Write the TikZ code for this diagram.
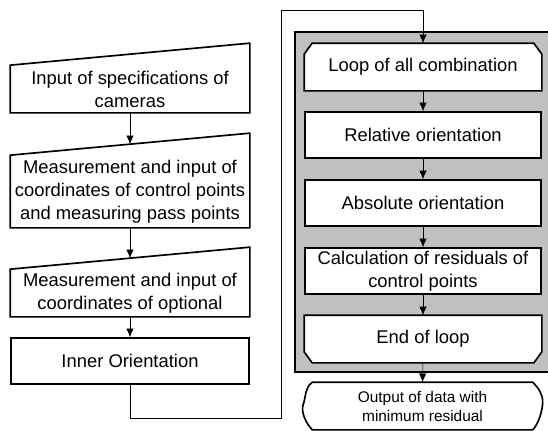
\documentclass[tikz,border=0pt]{standalone}
\usepackage{fontspec}
\setmainfont{Liberation Sans}
\usepackage{tikz}
\usetikzlibrary{arrows.meta,backgrounds,calc}

\begin{document}
\begin{tikzpicture}[x=0.75pt,y=0.75pt,yscale=-1,line width=1.25pt,
  flowbox/.style={minimum width=178.5pt,minimum height=34.5pt,inner sep=0pt,align=center,font=\fontsize{13.8}{17.25}\selectfont},
  procbox/.style={flowbox,draw,fill=white},
  loopbox/.style={flowbox,minimum width=177pt},
  outbox/.style={minimum width=164pt,minimum height=34.5pt,inner sep=0pt,align=center,font=\fontsize{11.55}{14.25}\selectfont},
  outline/.style={draw,fill=white,line width=1.25pt},
  flowarrow/.style={-{Latex[length=6.5pt,width=5.5pt]}}]
%uncomment if require: \path (0,430); %set diagram left start at 0, and has height of 430
\useasboundingbox (0,0) rectangle (548,430);

% Text Node
\node [flowbox] (spec) at (130,89) {Input of specifications of\\cameras};
% Text Node
\node [flowbox,minimum height=53.25pt] (ctrl) at (130,191.5) {Measurement and input of\\coordinates of control points\\and measuring pass points};
% Text Node
\node [flowbox] (opt) at (130,293) {Measurement and input of\\coordinates of optional};
% Text Node
\node [procbox] (inner) at (130,361) {Inner Orientation};

% Text Node
\node [loopbox] (loop) at (423,67) {Loop of all combination};
% Text Node
\node [procbox,minimum width=177pt] (rel) at (423,135) {Relative orientation};
% Text Node
\node [procbox,minimum width=177pt] (abs) at (423,203) {Absolute orientation};
% Text Node
\node [procbox,minimum width=177pt] (resid) at (423,271) {Calculation of residuals of\\control points};
% Text Node
\node [loopbox] (endloop) at (423,339) {End of loop};
% Text Node
\node [outbox] (out) at (422.5,406) {Output of data with\\minimum residual};

\begin{pgfonlayer}{background}
%Shape: Rectangle [loop frame]
\draw [outline,fill={rgb, 255:red, 192; green, 192; blue, 192 }] (295,32) -- (560,32) -- (560,372) -- (295,372) -- cycle ;
%Manual Input [spec]
\draw [outline] (spec.south west) -- (spec.north west) -- ($(spec.north east)+(0,-22)$) -- (spec.south east) -- cycle ;
%Manual Input [ctrl]
\draw [outline] (ctrl.south west) -- (ctrl.north west) -- ($(ctrl.north east)+(0,-22)$) -- (ctrl.south east) -- cycle ;
%Manual Input [opt]
\draw [outline] (opt.south west) -- (opt.north west) -- ($(opt.north east)+(0,-22)$) -- (opt.south east) -- cycle ;
%Loop Limit [loop]
\draw [outline] (loop.south west) -- ($(loop.north west)+(0,11)$) -- ($(loop.north west)+(8,0)$) -- ($(loop.north east)+(-8,0)$) -- ($(loop.north east)+(0,11)$) -- (loop.south east) -- cycle ;
%Loop Limit [endloop]
\draw [outline] (endloop.north west) -- ($(endloop.south west)+(0,-11)$) -- ($(endloop.south west)+(8,0)$) -- ($(endloop.south east)+(-8,0)$) -- ($(endloop.south east)+(0,-11)$) -- (endloop.north east) -- cycle ;
%Display [out]
\draw [outline] (out.north west) .. controls +(-8,6) and +(3,-8) .. ($(out.west)+(-9,-2)$) .. controls +(-3,8) and +(-6,-6) .. (out.south west) -- (out.south east) .. controls +(6,-6) and +(0,8) .. ($(out.east)+(10,-4)$) .. controls +(0,-8) and +(6,6) .. (out.north east) -- cycle ;
\end{pgfonlayer}

%Connectors
\coordinate (lowturn) at (281,418);
\coordinate (topturn) at (281,10);
\draw [flowarrow] (spec.south) -- ($(ctrl.north)+(0,-11)$) ;
\draw [flowarrow] (ctrl.south) -- ($(opt.north)+(0,-11)$) ;
\draw [flowarrow] (opt.south) -- (inner.north) ;
\draw [flowarrow] (inner.south) |- (lowturn) -- (topturn) -| (loop.north) ;
\draw [flowarrow] (loop.south) -- (rel.north) ;
\draw [flowarrow] (rel.south) -- (abs.north) ;
\draw [flowarrow] (abs.south) -- (resid.north) ;
\draw [flowarrow] (resid.south) -- (endloop.north) ;
\draw [flowarrow] (endloop.south) -- (out.north) ;
\end{tikzpicture}
\end{document}
